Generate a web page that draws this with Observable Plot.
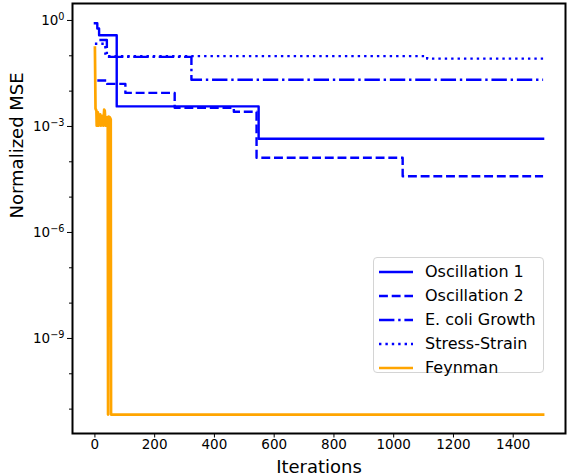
<!DOCTYPE html>
<html><head><meta charset="utf-8">
<script src="https://cdn.jsdelivr.net/npm/d3@7"></script>
<script src="https://cdn.jsdelivr.net/npm/@observablehq/plot@0.6"></script>
<style>
body{margin:0;background:#fff;}
#wrap{position:relative;width:567px;height:476px;font-family:"DejaVu Sans",sans-serif;}
#legend{position:absolute;left:373px;top:257px;width:171px;height:116px;border:1px solid #d4d4d4;border-radius:4px;background:rgba(255,255,255,0.85);box-sizing:border-box;}
.row{position:absolute;left:0;height:24px;display:flex;align-items:center;font-size:16px;color:#000;white-space:nowrap;}
.row svg{margin-left:5px;margin-right:12px;}
</style></head><body><div id="wrap"></div>
<script>
// ---- data ----
const seriesNames = ["Oscillation 1", "Oscillation 2", "E. coli Growth", "Stress-Strain", "Feynman"];

const osc1Iter = [0, 8, 14, 73, 548, 1500];
const osc1MSE  = [0.83, 0.59, 0.38, 3.7e-3, 4.5e-4, 4.5e-4];

const osc2Iter = [8, 41, 102, 267, 465, 541, 1030, 1500];
const osc2MSE  = [0.020, 0.016, 8.9e-3, 3.4e-3, 2.6e-3, 1.3e-4, 3.9e-5, 3.9e-5];

const ecoliIter = [15, 40, 323, 1500];
const ecoliMSE  = [0.28, 0.093, 0.021, 0.021];

const stressIter = [0, 35, 1112, 1500];
const stressMSE  = [0.22, 0.098, 0.083, 0.083];

const feynIter = [0, 1, 2, 5, 6, 10, 12, 18, 20, 26, 28, 31, 33, 36, 40, 43, 44, 46, 50, 53, 54, 1500];
const feynMSE  = [0.17, 0.025, 3.2e-3, 2.8e-3, 1.05e-3, 2.5e-3, 1.05e-3, 2.2e-3, 1.05e-3, 2.0e-3, 1.05e-3, 3.0e-3, 2.8e-3, 1.05e-3, 1.8e-3, 1.8e-3, 7e-12, 1.9e-3, 1.8e-3, 1.6e-3, 7e-12, 7e-12];

const xTicks = [0, 200, 400, 600, 800, 1000, 1200, 1400];
const yMajor = [1, 1e-3, 1e-6, 1e-9];
const yMajorExp = ["0", "−3", "−6", "−9"];
const yMinor = [1e-1, 1e-2, 1e-4, 1e-5, 1e-7, 1e-8, 1e-10, 1e-11];

const xLabel = "Iterations";
const yLabel = "Normalized MSE";

// ---- styles ----
const BLUE = "#0000ff", ORANGE = "#ffa500";
const styles = [
  {stroke: BLUE, dash: null, w: 2.4, curve: "step-after"},
  {stroke: BLUE, dash: "8.9,3.8", w: 2.4, curve: "step-after"},
  {stroke: BLUE, dash: "15.4,3.8,2.4,3.8", w: 2.4, curve: "step-after"},
  {stroke: BLUE, dash: "2.4,4", w: 2.4, curve: "step-after"},
  {stroke: ORANGE, dash: null, w: 2.7, curve: "linear"}
];

const toRows = (it, v) => it.map((x, i) => ({x, y: v[i]}));
const series = [
  toRows(osc1Iter, osc1MSE),
  toRows(osc2Iter, osc2MSE),
  toRows(ecoliIter, ecoliMSE),
  toRows(stressIter, stressMSE),
  toRows(feynIter, feynMSE)
];

const lineMarks = series.map((d, k) => Plot.line(d, {
  x: "x", y: "y", curve: styles[k].curve,
  stroke: styles[k].stroke, strokeWidth: styles[k].w,
  strokeDasharray: styles[k].dash || undefined,
  strokeLinejoin: "round", strokeLinecap: styles[k].dash ? "butt" : "square"
}));

const chart = Plot.plot({
  width: 567, height: 476,
  marginLeft: 72, marginRight: 2, marginTop: 3, marginBottom: 43,
  style: {fontFamily: "DejaVu Sans, sans-serif", fontSize: "13.5px", background: "white", color: "black"},
  x: {domain: [-75, 1575]},
  y: {type: "log", domain: [Math.pow(10, -11.69), Math.pow(10, 0.48)]},
  marks: [
    ...lineMarks,
    Plot.frame({stroke: "black", strokeWidth: 2}),
    Plot.axisX({ticks: xTicks, tickSize: 4.5, tickPadding: 1.5, tickFormat: d3.format("d"), label: null, fontSize: 13.5}),
    Plot.axisY({ticks: yMajor, tickSize: 5, tickPadding: 3, tickFormat: d => "10^" + yMajorExp[yMajor.indexOf(d)], label: null, fontSize: 13.5}),
    Plot.axisY({ticks: yMinor, tickSize: 3, tickFormat: () => "", label: null}),
    Plot.text([xLabel], {frameAnchor: "bottom", dy: 34, lineAnchor: "middle", fontSize: 18, text: d => d}),
    Plot.text([yLabel], {frameAnchor: "left", dx: -55, rotate: -90, fontSize: 18, text: d => d})
  ]
});

// render the "10^e" tick labels with real superscripts
d3.select(chart).selectAll("text").each(function() {
  const t = this.textContent;
  if (t.startsWith("10^")) {
    const e = t.slice(3);
    const sel = d3.select(this);
    sel.text(null);
    sel.append("tspan").text("10");
    sel.append("tspan").attr("dy", "-0.5em").attr("font-size", "0.72em").text(e);
  }
});

const wrap = document.getElementById("wrap");
wrap.appendChild(chart);

// ---- legend (overlay, inside the axes) ----
const legend = document.createElement("div");
legend.id = "legend";
const rowCenters = [13.7, 37.5, 61.5, 85.5, 109.5];
seriesNames.forEach((name, k) => {
  const row = document.createElement("div");
  row.className = "row";
  row.style.top = (rowCenters[k] - 12) + "px";
  const s = styles[k];
  row.innerHTML = `<svg width="34" height="10"><line x1="0" y1="5" x2="34" y2="5" stroke="${s.stroke}" stroke-width="${s.w}" ${s.dash ? `stroke-dasharray="${s.dash}"` : ""}/></svg><span>${name}</span>`;
  legend.appendChild(row);
});
wrap.appendChild(legend);
</script>
</body></html>
